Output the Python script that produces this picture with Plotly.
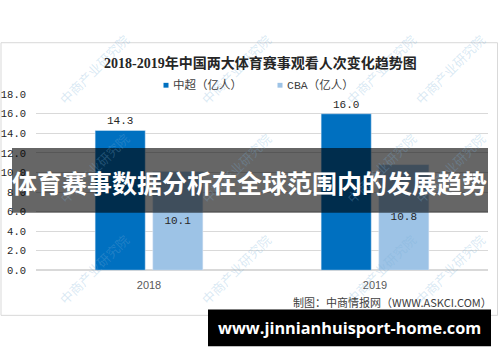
import plotly.graph_objects as go

categories = ["2018", "2019"]
series_names = ["中超（亿人）", "CBA（亿人）"]
csl_values = [14.3, 16.0]
cba_values = [10.1, 10.8]
y_ticks = [0, 2, 4, 6, 8, 10, 12, 14, 16, 18]
y_tick_labels = [f"{v:.1f}" for v in y_ticks]

title_text = "2018-2019年中国两大体育赛事观看人次变化趋势图"
banner_text = "体育赛事数据分析在全球范围内的发展趋势"
source_text = "制图：中商情报网（WWW.ASKCI.COM）"
footer_text = "www.jinnianhuisport-home.com"
watermark_text = "中商产业研究院"

W, H = 500, 362
def px(x): return x / W
def py(y): return 1 - y / H

DARK = "#0070C0"
LIGHT = "#9DC3E6"
CJK = "Noto Sans CJK SC"
NUM = "Liberation Mono"

fig = go.Figure()
fig.add_trace(go.Bar(
    x=categories, y=csl_values, name=series_names[0], marker_color=DARK,
    text=[f"{v:.1f}" for v in csl_values], textposition="outside",
    textfont=dict(family=NUM, size=11, color="#262626"), cliponaxis=False))
fig.add_trace(go.Bar(
    x=categories, y=cba_values, name=series_names[1], marker_color=LIGHT,
    text=[f"{v:.1f}" for v in cba_values], textposition="inside",
    insidetextanchor="middle",
    textfont=dict(family=NUM, size=11, color="#262626")))

shapes = []
annotations = []

def ann(x, y, text, font, xanchor="center", yanchor="middle", **kw):
    d = dict(x=px(x), y=py(y), xref="paper", yref="paper", text=text, showarrow=False,
             xanchor=xanchor, yanchor=yanchor, font=font)
    d.update(kw)
    annotations.append(d)

# frame
shapes.append(dict(type="rect", xref="paper", yref="paper",
                   x0=px(1), x1=px(497.5), y0=py(321), y1=py(39),
                   line=dict(color="#D9D9D9", width=1), fillcolor="rgba(0,0,0,0)", layer="below"))

# watermarks
for wy in [103, 205, 310]:
    for wx in [94, 236, 381, 450]:
        ann(wx, wy - 36, watermark_text,
            dict(family=CJK, size=13, color="rgba(120,175,215,0.28)"), textangle=-45)

# title
ann(260, 60, f"<b>{title_text}</b>",
    dict(family="Liberation Serif, " + CJK, size=14, color="#262626"))

# legend (custom)
for mx, name, col in [(166, series_names[0], DARK), (280, series_names[1], LIGHT)]:
    shapes.append(dict(type="rect", xref="paper", yref="paper",
                       x0=px(mx - 2.5), x1=px(mx + 2.5), y0=py(85.5), y1=py(80.5),
                       fillcolor=col, line=dict(width=0)))
    ann(mx + 5, 83, name, dict(family="Liberation Mono, " + CJK, size=11.5, color="#404040"),
        xanchor="left")

# source
ann(494, 307, source_text, dict(family=CJK, size=11, color="#404040"), xanchor="right")

# banner overlay
shapes.append(dict(type="rect", xref="paper", yref="paper",
                   x0=px(12), x1=px(488), y0=py(215), y1=py(148),
                   fillcolor="rgba(0,0,0,0.6)", line=dict(width=0), layer="above"))
ann(249, 183, f"<b>{banner_text}</b>", dict(family=CJK, size=25, color="white"))

# footer black bar
shapes.append(dict(type="rect", xref="paper", yref="paper",
                   x0=px(208), x1=px(491), y0=py(353), y1=py(315),
                   fillcolor="black", line=dict(width=0), layer="above"))
ann(349, 334, f"<b>{footer_text}</b>", dict(family="Open Sans", size=16.3, color="white"))

fig.update_layout(
    width=W, height=H, margin=dict(l=0, r=0, t=0, b=0),
    paper_bgcolor="white", plot_bgcolor="white",
    showlegend=False, barmode="group", bargap=0.49, bargroupgap=0.13,
    shapes=shapes, annotations=annotations,
    xaxis=dict(domain=[px(36), px(488)], showgrid=False, showline=False, ticks="",
               ticklabelstandoff=7,
               tickfont=dict(family="Liberation Sans", size=11, color="#595959")),
    yaxis=dict(domain=[py(274.3), py(92.3)], range=[0, 18], tickvals=y_ticks, ticktext=y_tick_labels,
               showgrid=True, gridcolor="#D9D9D9", gridwidth=1, zeroline=True, zerolinecolor="#D9D9D9",
               showline=False, ticks="", ticklabelstandoff=9,
               tickfont=dict(family=NUM, size=10.5, color="#262626")),
)
fig.write_html("out.html")
